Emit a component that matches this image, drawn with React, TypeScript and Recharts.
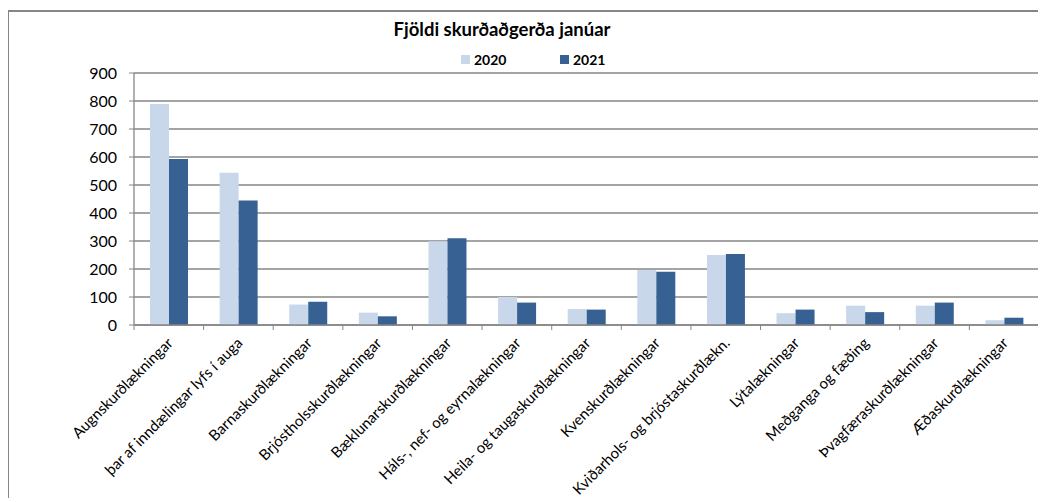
import { Bar, BarChart, CartesianGrid, XAxis, YAxis } from "recharts";

const categories = [
  "Augnskurðlækningar",
  "þar af inndælingar lyfs í auga",
  "Barnaskurðlækningar",
  "Brjóstholsskurðlækningar",
  "Bæklunarskurðlækningar",
  "Háls-, nef- og eyrnalækningar",
  "Heila- og taugaskurðlækningar",
  "Kvenskurðlækningar",
  "Kviðarhols- og brjóstaskurðlækn.",
  "Lýtalækningar",
  "Meðganga og fæðing",
  "Þvagfæraskurðlækningar",
  "Æðaskurðlækningar",
];
const values2020 = [789, 544, 73, 44, 299, 100, 57, 196, 250, 42, 69, 69, 17];
const values2021 = [593, 445, 83, 31, 310, 80, 55, 190, 254, 55, 46, 80, 26];
const seriesNames = ["2020", "2021"];
const yTicks = [0, 100, 200, 300, 400, 500, 600, 700, 800, 900];

const title = "Fjöldi skurðaðgerða janúar";
const colors = ["#C8D7EA", "#366192"];
const gridColor = "#868686";
const font = "Lato, 'Open Sans', sans-serif";

const data = categories.map((name, i) => ({
  name,
  v2020: values2020[i],
  v2021: values2021[i],
}));

// Category label rotated 45deg, plus tick marks on the band edges (Excel style).
function CategoryTick(props: any) {
  const { x, y, payload, index, visibleTicksCount } = props;
  const half = payload?.offset ?? 34.8;
  const last = index === (visibleTicksCount ?? categories.length) - 1;
  return (
    <g>
      <line x1={x - half} x2={x - half} y1={y} y2={y + 5} stroke={gridColor} />
      {last ? (
        <line x1={x + half} x2={x + half} y1={y} y2={y + 5} stroke={gridColor} />
      ) : null}
      <text
        x={x + 5}
        y={y + 19}
        transform={`rotate(-45, ${x + 5}, ${y + 19})`}
        textAnchor="end"
        fontSize={15}
        fontFamily={font}
        fill="#000"
      >
        {payload.value}
      </text>
    </g>
  );
}

export default function App() {
  return (
    <div style={{ position: "relative", width: 1036, height: 490, fontFamily: font }}>
      <div
        style={{
          position: "absolute",
          left: -1,
          top: 2,
          width: 1040,
          height: 500,
          borderTop: `2px solid ${gridColor}`,
          borderLeft: `2px solid ${gridColor}`,
        }}
      />
      <div
        style={{
          position: "absolute",
          left: 0,
          width: 988,
          top: 10,
          textAlign: "center",
          fontWeight: 700,
          fontSize: 18.5,
          color: "#000",
        }}
      >
        {title}
      </div>
      <div
        style={{
          position: "absolute",
          top: 43,
          left: 453,
          display: "flex",
          fontWeight: 700,
          fontSize: 14,
          color: "#000",
        }}
      >
        {seriesNames.map((s, i) => (
          <div key={s} style={{ display: "flex", alignItems: "center", width: 99 }}>
            <span
              style={{
                display: "inline-block",
                width: 9,
                height: 9,
                background: colors[i],
                marginRight: 4,
              }}
            />
            {s}
          </div>
        ))}
      </div>
      <div style={{ position: "absolute", left: 0, top: 0 }}>
        <BarChart
          width={1036}
          height={490}
          data={data}
          margin={{ top: 65, right: 5, bottom: 0, left: 0 }}
          barCategoryGap="23%"
          barGap={0}
        >
          <CartesianGrid horizontal vertical={false} stroke={gridColor} strokeWidth={1.3} />
          <XAxis
            dataKey="name"
            interval={0}
            height={173}
            tickLine={false}
            tickSize={0}
            tickMargin={0}
            axisLine={{ stroke: gridColor, strokeWidth: 1.3 }}
            tick={<CategoryTick />}
          />
          <YAxis
            width={126}
            domain={[0, 900]}
            ticks={yTicks}
            interval={0}
            tickSize={5}
            tickMargin={12}
            tickLine={{ stroke: gridColor }}
            axisLine={{ stroke: gridColor, strokeWidth: 1.3 }}
            tick={{ fill: "#000", fontSize: 16, fontFamily: font }}
          />
          <Bar dataKey="v2020" name={seriesNames[0]} fill={colors[0]} isAnimationActive={false} />
          <Bar dataKey="v2021" name={seriesNames[1]} fill={colors[1]} isAnimationActive={false} />
        </BarChart>
      </div>
    </div>
  );
}
